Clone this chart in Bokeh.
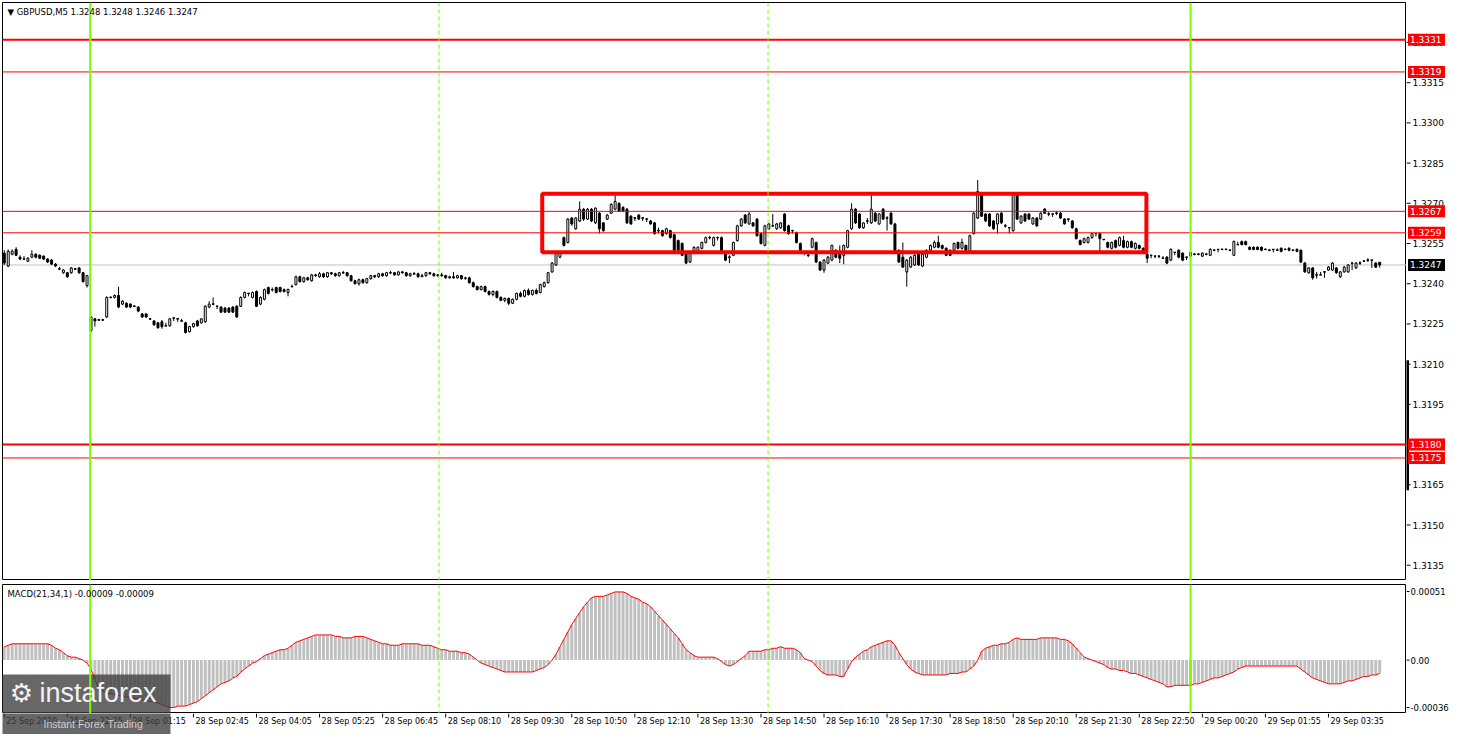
from bokeh.plotting import figure
from bokeh.models import Range1d, Label, Span, ColumnDataSource
from bokeh.layouts import column, row
from bokeh.embed import file_html
from bokeh.resources import INLINE
from bokeh.core.properties import value

# ---------------- data ----------------
symbol_title = "\u25BC GBPUSD,M5  1.3248 1.3248 1.3246 1.3247"
macd_title = "MACD(21,34,1) -0.00009 -0.00009"
watermark_name = "instaforex"
watermark_tagline = "Instant Forex Trading"

open_ = [
1.32514,1.32466,1.32510,1.32528,1.32499,1.32492,1.32484,1.32499,1.32510,1.32506,
1.32503,1.32492,1.32488,1.32473,1.32455,1.32441,1.32441,1.32441,1.32455,1.32459,
1.32441,1.32393,1.32225,1.32269,1.32265,1.32265,1.32276,1.32349,1.32349,1.32356,
1.32324,1.32327,1.32324,1.32316,1.32313,1.32287,1.32287,1.32269,1.32261,1.32254,
1.32258,1.32243,1.32243,1.32272,1.32269,1.32261,1.32254,1.32221,1.32240,1.32261,
1.32254,1.32258,1.32313,1.32324,1.32316,1.32313,1.32309,1.32309,1.32313,1.32316,
1.32316,1.32349,1.32364,1.32349,1.32371,1.32324,1.32342,1.32386,1.32378,1.32386,
1.32386,1.32378,1.32367,1.32389,1.32397,1.32426,1.32408,1.32422,1.32411,1.32433,
1.32426,1.32437,1.32426,1.32441,1.32437,1.32430,1.32441,1.32441,1.32430,1.32411,
1.32400,1.32415,1.32404,1.32419,1.32430,1.32426,1.32437,1.32430,1.32441,1.32441,
1.32433,1.32444,1.32441,1.32430,1.32437,1.32437,1.32426,1.32430,1.32441,1.32437,
1.32430,1.32433,1.32430,1.32422,1.32426,1.32422,1.32430,1.32419,1.32422,1.32404,
1.32389,1.32378,1.32389,1.32371,1.32360,1.32371,1.32349,1.32338,1.32345,1.32327,
1.32342,1.32364,1.32353,1.32375,1.32360,1.32375,1.32367,1.32389,1.32404,1.32444,
1.32470,1.32499,1.32572,1.32554,1.32645,1.32605,1.32634,1.32678,1.32641,1.32678,
1.32627,1.32663,1.32627,1.32641,1.32663,1.32678,1.32700,1.32685,1.32678,1.32652,
1.32645,1.32656,1.32645,1.32641,1.32634,1.32627,1.32598,1.32598,1.32587,1.32598,
1.32583,1.32561,1.32550,1.32514,1.32481,1.32514,1.32517,1.32532,1.32554,1.32572,
1.32543,1.32572,1.32572,1.32514,1.32499,1.32506,1.32561,1.32616,1.32656,1.32623,
1.32627,1.32641,1.32587,1.32543,1.32605,1.32616,1.32605,1.32609,1.32660,1.32616,
1.32598,1.32590,1.32550,1.32514,1.32506,1.32536,1.32554,1.32481,1.32451,1.32477,
1.32488,1.32525,1.32514,1.32506,1.32536,1.32605,1.32678,1.32660,1.32609,1.32634,
1.32627,1.32663,1.32623,1.32678,1.32645,1.32663,1.32623,1.32525,1.32499,1.32444,
1.32462,1.32470,1.32514,1.32466,1.32499,1.32525,1.32536,1.32554,1.32543,1.32532,
1.32525,1.32525,1.32554,1.32532,1.32543,1.32517,1.32587,1.32645,1.32733,1.32660,
1.32660,1.32634,1.32623,1.32663,1.32616,1.32609,1.32598,1.32733,1.32627,1.32660,
1.32660,1.32623,1.32645,1.32641,1.32678,1.32660,1.32660,1.32663,1.32663,1.32641,
1.32641,1.32634,1.32605,1.32561,1.32554,1.32554,1.32572,1.32587,1.32587,1.32565,
1.32554,1.32532,1.32561,1.32543,1.32561,1.32536,1.32557,1.32532,1.32543,1.32532,
1.32510,1.32506,1.32503,1.32503,1.32495,1.32499,1.32488,1.32517,1.32525,1.32514,
1.32499,1.32503,1.32510,1.32510,1.32503,1.32510,1.32506,1.32525,1.32528,1.32528,
1.32528,1.32525,1.32506,1.32546,1.32557,1.32557,1.32536,1.32536,1.32536,1.32536,
1.32528,1.32525,1.32528,1.32525,1.32532,1.32528,1.32532,1.32525,1.32528,1.32525,
1.32477,1.32441,1.32459,1.32433,1.32433,1.32444,1.32451,1.32451,1.32459,1.32426,
1.32444,1.32444,1.32477,1.32459,1.32477,1.32484,1.32488,1.32488,1.32477,1.32480]

high = [
1.32525,1.32528,1.32528,1.32536,1.32506,1.32503,1.32499,1.32525,1.32514,1.32510,
1.32506,1.32495,1.32492,1.32477,1.32462,1.32455,1.32444,1.32462,1.32459,1.32462,
1.32444,1.32433,1.32280,1.32272,1.32269,1.32269,1.32353,1.32353,1.32360,1.32389,
1.32338,1.32331,1.32327,1.32320,1.32316,1.32291,1.32291,1.32272,1.32265,1.32258,
1.32265,1.32254,1.32272,1.32272,1.32269,1.32269,1.32258,1.32243,1.32254,1.32265,
1.32272,1.32320,1.32335,1.32349,1.32316,1.32316,1.32313,1.32313,1.32316,1.32320,
1.32353,1.32371,1.32364,1.32371,1.32375,1.32353,1.32382,1.32389,1.32386,1.32389,
1.32389,1.32382,1.32382,1.32397,1.32430,1.32430,1.32426,1.32426,1.32437,1.32437,
1.32444,1.32441,1.32444,1.32444,1.32441,1.32444,1.32448,1.32444,1.32433,1.32415,
1.32419,1.32419,1.32422,1.32433,1.32433,1.32441,1.32441,1.32444,1.32448,1.32444,
1.32448,1.32448,1.32444,1.32441,1.32444,1.32441,1.32437,1.32444,1.32444,1.32441,
1.32437,1.32441,1.32433,1.32430,1.32444,1.32433,1.32433,1.32426,1.32426,1.32408,
1.32393,1.32393,1.32393,1.32375,1.32375,1.32375,1.32353,1.32349,1.32349,1.32345,
1.32367,1.32371,1.32378,1.32382,1.32378,1.32382,1.32400,1.32408,1.32444,1.32481,
1.32521,1.32521,1.32576,1.32645,1.32649,1.32649,1.32707,1.32682,1.32682,1.32682,
1.32685,1.32667,1.32630,1.32660,1.32700,1.32733,1.32703,1.32689,1.32682,1.32656,
1.32649,1.32660,1.32649,1.32645,1.32638,1.32630,1.32609,1.32601,1.32609,1.32601,
1.32587,1.32565,1.32554,1.32517,1.32517,1.32539,1.32539,1.32557,1.32576,1.32579,
1.32576,1.32576,1.32576,1.32517,1.32506,1.32557,1.32620,1.32645,1.32660,1.32667,
1.32630,1.32645,1.32590,1.32620,1.32627,1.32660,1.32627,1.32630,1.32663,1.32620,
1.32601,1.32594,1.32554,1.32521,1.32517,1.32572,1.32557,1.32484,1.32492,1.32503,
1.32546,1.32528,1.32543,1.32546,1.32601,1.32700,1.32682,1.32663,1.32630,1.32645,
1.32733,1.32667,1.32663,1.32682,1.32652,1.32667,1.32627,1.32528,1.32554,1.32492,
1.32503,1.32510,1.32517,1.32514,1.32528,1.32546,1.32561,1.32579,1.32546,1.32536,
1.32528,1.32554,1.32557,1.32568,1.32546,1.32583,1.32667,1.32787,1.32736,1.32663,
1.32663,1.32638,1.32663,1.32667,1.32623,1.32609,1.32736,1.32736,1.32656,1.32663,
1.32663,1.32649,1.32649,1.32667,1.32682,1.32667,1.32660,1.32671,1.32667,1.32645,
1.32641,1.32638,1.32609,1.32565,1.32572,1.32576,1.32590,1.32587,1.32590,1.32568,
1.32557,1.32557,1.32565,1.32576,1.32579,1.32561,1.32561,1.32554,1.32546,1.32536,
1.32514,1.32506,1.32503,1.32503,1.32503,1.32503,1.32532,1.32517,1.32528,1.32517,
1.32499,1.32521,1.32514,1.32514,1.32517,1.32514,1.32532,1.32528,1.32528,1.32532,
1.32532,1.32528,1.32561,1.32557,1.32561,1.32561,1.32539,1.32539,1.32539,1.32539,
1.32532,1.32528,1.32528,1.32532,1.32536,1.32532,1.32536,1.32528,1.32532,1.32528,
1.32481,1.32462,1.32462,1.32444,1.32444,1.32444,1.32466,1.32481,1.32462,1.32448,
1.32466,1.32473,1.32477,1.32481,1.32484,1.32488,1.32495,1.32488,1.32481,1.32480]

low = [
1.32470,1.32462,1.32506,1.32503,1.32488,1.32492,1.32481,1.32495,1.32495,1.32492,
1.32488,1.32477,1.32470,1.32462,1.32451,1.32437,1.32422,1.32437,1.32451,1.32437,
1.32404,1.32386,1.32221,1.32240,1.32261,1.32261,1.32272,1.32345,1.32345,1.32309,
1.32320,1.32309,1.32309,1.32313,1.32294,1.32272,1.32272,1.32265,1.32243,1.32232,
1.32232,1.32243,1.32240,1.32261,1.32258,1.32261,1.32214,1.32218,1.32236,1.32240,
1.32251,1.32254,1.32309,1.32320,1.32305,1.32291,1.32291,1.32291,1.32291,1.32272,
1.32313,1.32345,1.32353,1.32345,1.32313,1.32320,1.32338,1.32360,1.32371,1.32364,
1.32367,1.32367,1.32353,1.32389,1.32393,1.32404,1.32404,1.32411,1.32408,1.32426,
1.32422,1.32422,1.32422,1.32433,1.32426,1.32426,1.32437,1.32426,1.32408,1.32397,
1.32393,1.32400,1.32400,1.32415,1.32422,1.32422,1.32426,1.32426,1.32437,1.32430,
1.32430,1.32437,1.32426,1.32426,1.32433,1.32422,1.32426,1.32426,1.32433,1.32426,
1.32426,1.32426,1.32419,1.32419,1.32419,1.32419,1.32415,1.32415,1.32400,1.32386,
1.32375,1.32375,1.32367,1.32356,1.32353,1.32345,1.32335,1.32331,1.32320,1.32324,
1.32338,1.32349,1.32349,1.32356,1.32356,1.32360,1.32364,1.32386,1.32400,1.32441,
1.32466,1.32495,1.32539,1.32550,1.32616,1.32601,1.32630,1.32634,1.32638,1.32630,
1.32623,1.32587,1.32594,1.32638,1.32660,1.32674,1.32667,1.32667,1.32623,1.32620,
1.32634,1.32638,1.32634,1.32630,1.32620,1.32583,1.32587,1.32576,1.32583,1.32568,
1.32521,1.32521,1.32503,1.32473,1.32477,1.32510,1.32514,1.32528,1.32550,1.32565,
1.32539,1.32561,1.32514,1.32484,1.32477,1.32503,1.32557,1.32612,1.32623,1.32620,
1.32612,1.32576,1.32546,1.32539,1.32601,1.32612,1.32601,1.32605,1.32594,1.32583,
1.32587,1.32550,1.32521,1.32506,1.32499,1.32532,1.32477,1.32448,1.32441,1.32473,
1.32484,1.32495,1.32477,1.32473,1.32532,1.32601,1.32623,1.32605,1.32605,1.32623,
1.32623,1.32630,1.32620,1.32638,1.32598,1.32620,1.32514,1.32477,1.32459,1.32389,
1.32459,1.32466,1.32466,1.32462,1.32495,1.32521,1.32532,1.32532,1.32528,1.32503,
1.32503,1.32521,1.32528,1.32528,1.32521,1.32514,1.32583,1.32641,1.32649,1.32630,
1.32612,1.32601,1.32587,1.32623,1.32609,1.32587,1.32594,1.32638,1.32623,1.32630,
1.32638,1.32620,1.32612,1.32638,1.32660,1.32652,1.32649,1.32656,1.32641,1.32620,
1.32630,1.32605,1.32565,1.32543,1.32550,1.32550,1.32568,1.32576,1.32521,1.32561,
1.32532,1.32528,1.32532,1.32539,1.32532,1.32532,1.32532,1.32528,1.32528,1.32510,
1.32477,1.32495,1.32495,1.32495,1.32495,1.32473,1.32484,1.32506,1.32495,1.32484,
1.32488,1.32499,1.32506,1.32506,1.32499,1.32506,1.32503,1.32521,1.32517,1.32525,
1.32525,1.32521,1.32503,1.32543,1.32543,1.32543,1.32525,1.32525,1.32525,1.32521,
1.32525,1.32521,1.32517,1.32525,1.32517,1.32525,1.32521,1.32521,1.32517,1.32477,
1.32441,1.32437,1.32415,1.32419,1.32433,1.32422,1.32448,1.32448,1.32437,1.32422,
1.32441,1.32441,1.32451,1.32455,1.32470,1.32481,1.32481,1.32459,1.32459,1.32460]

close = [
1.32477,1.32521,1.32521,1.32506,1.32492,1.32492,1.32495,1.32510,1.32499,1.32495,
1.32492,1.32481,1.32473,1.32466,1.32455,1.32451,1.32426,1.32459,1.32455,1.32441,
1.32408,1.32430,1.32276,1.32261,1.32265,1.32265,1.32349,1.32349,1.32356,1.32313,
1.32335,1.32313,1.32313,1.32316,1.32298,1.32276,1.32276,1.32269,1.32247,1.32236,
1.32240,1.32243,1.32269,1.32272,1.32269,1.32261,1.32218,1.32240,1.32251,1.32243,
1.32269,1.32316,1.32324,1.32324,1.32316,1.32294,1.32294,1.32294,1.32294,1.32276,
1.32349,1.32367,1.32364,1.32367,1.32316,1.32349,1.32378,1.32364,1.32378,1.32367,
1.32371,1.32371,1.32378,1.32389,1.32426,1.32408,1.32422,1.32415,1.32433,1.32430,
1.32437,1.32426,1.32441,1.32437,1.32430,1.32441,1.32441,1.32430,1.32411,1.32400,
1.32415,1.32404,1.32419,1.32430,1.32426,1.32437,1.32430,1.32441,1.32441,1.32433,
1.32444,1.32441,1.32430,1.32437,1.32437,1.32426,1.32430,1.32441,1.32437,1.32430,
1.32433,1.32430,1.32422,1.32426,1.32422,1.32430,1.32419,1.32422,1.32404,1.32389,
1.32378,1.32389,1.32371,1.32360,1.32371,1.32349,1.32338,1.32345,1.32327,1.32342,
1.32364,1.32353,1.32375,1.32360,1.32375,1.32364,1.32397,1.32404,1.32441,1.32477,
1.32517,1.32517,1.32543,1.32641,1.32623,1.32645,1.32678,1.32641,1.32678,1.32634,
1.32682,1.32605,1.32598,1.32656,1.32696,1.32707,1.32671,1.32671,1.32627,1.32623,
1.32645,1.32641,1.32645,1.32641,1.32623,1.32587,1.32598,1.32579,1.32605,1.32572,
1.32525,1.32525,1.32506,1.32477,1.32514,1.32536,1.32536,1.32554,1.32572,1.32572,
1.32572,1.32572,1.32517,1.32488,1.32499,1.32554,1.32616,1.32641,1.32627,1.32660,
1.32616,1.32579,1.32550,1.32616,1.32623,1.32616,1.32623,1.32627,1.32598,1.32587,
1.32598,1.32554,1.32525,1.32514,1.32506,1.32568,1.32481,1.32451,1.32488,1.32499,
1.32543,1.32499,1.32495,1.32543,1.32598,1.32678,1.32627,1.32609,1.32627,1.32634,
1.32678,1.32634,1.32660,1.32641,1.32645,1.32623,1.32517,1.32481,1.32462,1.32488,
1.32499,1.32506,1.32470,1.32510,1.32525,1.32543,1.32554,1.32536,1.32532,1.32506,
1.32506,1.32550,1.32532,1.32554,1.32525,1.32579,1.32663,1.32744,1.32652,1.32634,
1.32616,1.32605,1.32660,1.32627,1.32616,1.32609,1.32733,1.32641,1.32652,1.32634,
1.32641,1.32645,1.32616,1.32663,1.32663,1.32660,1.32660,1.32663,1.32645,1.32623,
1.32641,1.32609,1.32568,1.32546,1.32568,1.32572,1.32587,1.32587,1.32568,1.32565,
1.32536,1.32554,1.32536,1.32572,1.32536,1.32557,1.32536,1.32550,1.32532,1.32514,
1.32495,1.32506,1.32503,1.32503,1.32495,1.32477,1.32528,1.32517,1.32499,1.32488,
1.32499,1.32517,1.32510,1.32510,1.32514,1.32510,1.32528,1.32525,1.32528,1.32528,
1.32528,1.32525,1.32557,1.32546,1.32546,1.32546,1.32528,1.32528,1.32528,1.32525,
1.32528,1.32525,1.32528,1.32525,1.32521,1.32528,1.32525,1.32525,1.32521,1.32481,
1.32444,1.32459,1.32422,1.32433,1.32433,1.32444,1.32462,1.32477,1.32441,1.32444,
1.32462,1.32470,1.32477,1.32477,1.32477,1.32484,1.32488,1.32488,1.32462,1.32470]

# MACD(21,34,1) main line / histogram, in units of 1e-5
macd_1e5 = [
9,10,11,11,11,11,11,11,11,11,
11,11,10,8,7,5,3,2,2,1,
0,-2,-6,-13,-20,-21,-22,-23,-23,-24,
-24,-25,-25,-26,-26,-27,-27,-28,-28,-29,
-30,-31,-32,-32,-31,-31,-31,-30,-29,-28,
-26,-24,-22,-20,-18,-16,-15,-14,-12,-11,
-8,-6,-4,-2,-1,1,3,4,5,6,
7,7,8,10,12,13,14,15,16,17,
17,17,17,17,16,16,15,15,15,16,
16,16,15,14,13,12,11,11,10,10,
10,11,11,11,11,11,10,10,10,9,
8,7,7,6,6,6,5,5,4,2,
0,-2,-3,-4,-5,-6,-7,-8,-8,-8,
-8,-8,-8,-8,-8,-7,-6,-5,-3,0,
4,9,14,19,24,28,32,36,39,42,
43,43,43,44,45,46,46,46,45,43,
42,41,39,38,36,33,30,27,24,21,
18,15,11,7,5,3,2,2,2,2,
2,1,-1,-3,-4,-3,-1,1,3,6,
6,6,6,7,7,8,8,9,8,8,
8,7,5,1,0,-1,-4,-7,-9,-10,
-10,-10,-11,-11,-6,-1,2,4,6,7,
9,10,11,12,13,13,10,5,1,-3,
-6,-8,-9,-10,-10,-10,-10,-10,-10,-10,
-9,-9,-9,-8,-8,-6,-4,0,6,8,
9,10,10,11,11,12,14,15,14,14,
14,14,14,15,15,15,15,15,14,14,
13,11,8,5,2,1,0,-1,-2,-3,
-5,-6,-6,-7,-7,-8,-9,-9,-10,-11,
-12,-13,-14,-15,-16,-18,-18,-17,-17,-17,
-17,-17,-16,-16,-15,-14,-13,-12,-12,-11,
-10,-9,-8,-6,-5,-4,-4,-4,-4,-4,
-4,-4,-4,-4,-4,-4,-4,-4,-4,-6,
-8,-10,-12,-13,-14,-15,-16,-16,-16,-16,
-15,-14,-14,-13,-12,-11,-11,-10,-10,-9]

level_prices = [1.3331, 1.3319, 1.3267, 1.3259, 1.3180, 1.3175]
bid_price = 1.3247
box_bars = [136.5, 289.8]
box_prices = [1.32517, 1.32736]
session_bars = [21.8, 301.0]
separator_bars = [110.3, 193.8]
scale_marker_prices = [1.3163, 1.32115]

price_ticks = [1.3135, 1.3150, 1.3165, 1.3180, 1.3195, 1.3210, 1.3225,
               1.3240, 1.3255, 1.3270, 1.3285, 1.3300, 1.3315, 1.3330]
time_tick_bars = [0, 16, 32, 48, 64, 80, 96, 112, 128, 144, 160, 176,
                  192, 208, 224, 240, 256, 272, 288, 304, 320, 336]
time_tick_labels = ["25 Sep 2020", "25 Sep 22:25", "28 Sep 01:15", "28 Sep 02:45",
                    "28 Sep 04:05", "28 Sep 05:25", "28 Sep 06:45", "28 Sep 08:10",
                    "28 Sep 09:30", "28 Sep 10:50", "28 Sep 12:10", "28 Sep 13:30",
                    "28 Sep 14:50", "28 Sep 16:10", "28 Sep 17:30", "28 Sep 18:50",
                    "28 Sep 20:10", "28 Sep 21:30", "28 Sep 22:50", "29 Sep 00:20",
                    "29 Sep 01:55", "29 Sep 03:35"]
macd_tick_labels = ["0.00051", "0.00", "-0.00036"]
macd_limits = [-0.00036, 0.00051]
price_limits = [1.31293, 1.33449]
bar_limits = [-0.45, 355.8]

# ---------------- styling / layout constants ----------------
FONT = "DejaVu Sans"
GREEN = "#7CFC00"
FRAME_W = 1404
SCALE_W = 46
MAIN_H = 578
MACD_H = 129
TIME_H = 21

px_bar = (bar_limits[1] - bar_limits[0]) / FRAME_W      # bars per pixel
px_macd = (macd_limits[1] - macd_limits[0]) / MACD_H     # macd units per pixel


def bar_at(px):
    return bar_limits[0] + px * px_bar


def base_fig(**kw):
    f = figure(output_backend="svg", toolbar_location=None,
               x_axis_location=None, y_axis_location=None,
               background_fill_color="white", border_fill_color="white", **kw)
    f.grid.visible = False
    return f


n = len(close)
xs = list(range(n))
body_top = [max(o, c) for o, c in zip(open_, close)]
body_bot = [min(o, c) for o, c in zip(open_, close)]
body_col = ["white" if c > o else "black" for o, c in zip(open_, close)]
doji_idx = [i for i in xs if open_[i] == close[i]]

candles = ColumnDataSource(dict(x=xs, o=open_, h=high, l=low, c=close,
                                top=body_top, bot=body_bot, col=body_col))
doji = ColumnDataSource(dict(x0=[i - 0.3 for i in doji_idx], x1=[i + 0.3 for i in doji_idx],
                             y=[open_[i] for i in doji_idx]))
macd_vals = [v * 1e-5 for v in macd_1e5]
macd_src = ColumnDataSource(dict(x=xs, m=macd_vals))

xr = Range1d(bar_limits[0], bar_limits[1])
yr_price = Range1d(price_limits[0], price_limits[1])
yr_macd = Range1d(macd_limits[0], macd_limits[1])

# ---------------- main price panel ----------------
p = base_fig(frame_width=FRAME_W, frame_height=MAIN_H, x_range=xr, y_range=yr_price,
             min_border_left=2, min_border_right=0, min_border_top=2, min_border_bottom=0,
             outline_line_color="black", outline_line_width=1)

p.add_layout(Span(location=bid_price, dimension="width", line_color="#C0C0C0",
                  line_width=1, level="underlay"))

p.segment(x0="x", y0="l", x1="x", y1="h", source=candles, line_color="black", line_width=1)
p.vbar(x="x", width=0.5, top="top", bottom="bot", source=candles,
       fill_color="col", line_color="black", line_width=1)
p.segment(x0="x0", y0="y", x1="x1", y1="y", source=doji, line_color="black", line_width=1)

p.quad(left=[box_bars[0]], right=[box_bars[1]], bottom=[box_prices[0]], top=[box_prices[1]],
       fill_alpha=0, line_color="#FF0000", line_width=4)

level_widths = [2, 1, 1, 1, 2, 1]
for lp, lw in zip(level_prices, level_widths):
    p.add_layout(Span(location=lp, dimension="width", line_color="#FF0000", line_width=lw))

for b in session_bars:
    p.add_layout(Span(location=b, dimension="height", line_color=GREEN, line_width=2))
for b in separator_bars:
    p.add_layout(Span(location=b, dimension="height", line_color=GREEN, line_width=1,
                      line_dash="4 3"))

p.add_layout(Label(x=bar_limits[0], y=price_limits[1], x_offset=5, y_offset=-4,
                   text=symbol_title, text_font=FONT, text_font_size="8.5px",
                   text_color="black", text_align="left", text_baseline="top"))

# ---------------- price scale (right) ----------------
ps = base_fig(frame_width=SCALE_W, frame_height=MAIN_H, x_range=Range1d(0, SCALE_W),
              y_range=yr_price, min_border_left=0, min_border_right=0,
              min_border_top=2, min_border_bottom=0, outline_line_color=None)
ps.segment(x0=[0] * len(price_ticks), x1=[4] * len(price_ticks), y0=price_ticks, y1=price_ticks,
           line_color="black", line_width=1)
ps.text(x=[6] * len(price_ticks), y=price_ticks, text=["%.4f" % t for t in price_ticks],
        text_font=value(FONT), text_font_size="9px", text_color="black",
        text_align="left", text_baseline="middle")
ps.segment(x0=[1], x1=[1], y0=[scale_marker_prices[0]], y1=[scale_marker_prices[1]],
           line_color="black", line_width=3)
tag_prices = level_prices + [bid_price]
tag_colors = ["#FF0000"] * len(level_prices) + ["black"]
ps.rect(x=[20] * len(tag_prices), y=tag_prices, width=37, height=12, height_units="screen",
        fill_color=tag_colors, line_color=None)
ps.text(x=[3.5] * len(tag_prices), y=tag_prices, text=["%.4f" % t for t in tag_prices],
        text_font=value(FONT), text_font_size="9px", text_color="white",
        text_align="left", text_baseline="middle")

# ---------------- MACD panel ----------------
m = base_fig(frame_width=FRAME_W, frame_height=MACD_H, x_range=xr, y_range=yr_macd,
             min_border_left=2, min_border_right=0, min_border_top=4, min_border_bottom=0,
             outline_line_color="black", outline_line_width=1)

m.vbar(x="x", width=0.75, top="m", bottom=0, source=macd_src,
       fill_color="#C0C0C0", line_color=None)
m.line(x="x", y="m", source=macd_src, line_color="#FF0000", line_width=1)

# watermark background (box spans MACD panel and time scale)
wm_left, wm_right = bar_at(-3), bar_at(168)
m.quad(left=[wm_left], right=[wm_right], bottom=[macd_limits[0] - 3 * px_macd],
       top=[macd_limits[0] + 39 * px_macd], fill_color="#3C3C3C", fill_alpha=0.78,
       line_color=None)

for b in session_bars:
    m.add_layout(Span(location=b, dimension="height", line_color=GREEN, line_width=2))
for b in separator_bars:
    m.add_layout(Span(location=b, dimension="height", line_color=GREEN, line_width=1,
                      line_dash="4 3"))

m.add_layout(Label(x=bar_limits[0], y=macd_limits[1], x_offset=5, y_offset=-4,
                   text=macd_title, text_font=FONT, text_font_size="8.5px",
                   text_color="black", text_align="left", text_baseline="top"))

# watermark texts, drawn above the vertical markers
m.add_layout(Label(x=bar_at(19), y=macd_limits[0] + 21 * px_macd, text="\u2699",
                   text_font=FONT, text_font_size="26px", text_color="#F2F2F2",
                   text_align="center", text_baseline="middle"))
m.add_layout(Label(x=bar_at(37), y=macd_limits[0] + 21 * px_macd, text=watermark_name,
                   text_font="Liberation Sans", text_font_size="27px", text_color="#F2F2F2",
                   text_align="left", text_baseline="middle"))

# ---------------- MACD scale ----------------
ms = base_fig(frame_width=SCALE_W, frame_height=MACD_H, x_range=Range1d(0, SCALE_W),
              y_range=yr_macd, min_border_left=0, min_border_right=0,
              min_border_top=4, min_border_bottom=0, outline_line_color=None)
macd_tick_pos = [macd_limits[1] - 7 * px_macd, 0.0, macd_limits[0] + 6 * px_macd]
ms.segment(x0=[0] * 3, x1=[3] * 3, y0=macd_tick_pos, y1=macd_tick_pos,
           line_color="black", line_width=1)
ms.text(x=[4] * 3, y=macd_tick_pos, text=macd_tick_labels,
        text_font=value(FONT), text_font_size="8.5px", text_color="black",
        text_align="left", text_baseline="middle")

# ---------------- time scale ----------------
ts = base_fig(frame_width=FRAME_W, frame_height=TIME_H, x_range=xr, y_range=Range1d(0, TIME_H),
              min_border_left=2, min_border_right=0, min_border_top=0, min_border_bottom=0,
              outline_line_color=None)
nt = len(time_tick_bars)
ts.segment(x0=time_tick_bars, x1=time_tick_bars, y0=[TIME_H] * nt, y1=[TIME_H - 4] * nt,
           line_color="black", line_width=1)
ts.text(x=time_tick_bars, y=[TIME_H - 3] * nt, x_offset=2, text=time_tick_labels,
        text_font=value(FONT), text_font_size="8px", text_color="black",
        text_align="left", text_baseline="top")
ts.quad(left=[wm_left], right=[wm_right], bottom=[-1], top=[TIME_H + 1],
        fill_color="#3C3C3C", fill_alpha=0.78, line_color=None)
ts.add_layout(Label(x=bar_at(41), y=TIME_H - 10, text=watermark_tagline,
                    text_font="Liberation Sans", text_font_size="10.5px",
                    text_color="#D0D0D0", text_align="left", text_baseline="middle"))

layout = column(row(p, ps, spacing=0), row(m, ms, spacing=0), ts, spacing=0)
open("out.html", "w").write(file_html(layout, INLINE))
